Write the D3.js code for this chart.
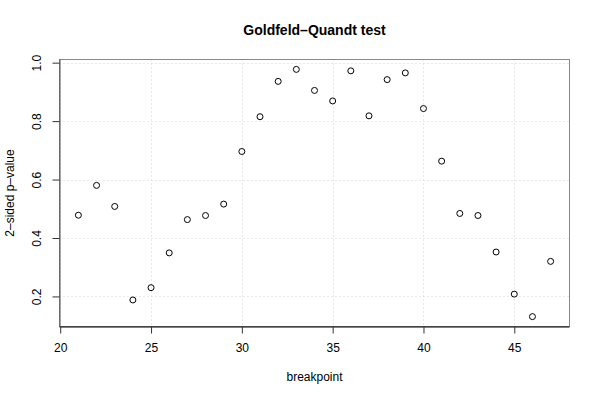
<!DOCTYPE html>
<html><head><meta charset="utf-8">
<script src="https://cdn.jsdelivr.net/npm/d3@7"></script>
<style>body{margin:0;background:#fff}svg{display:block}text{font-family:"Liberation Sans",Arial,Helvetica,sans-serif}</style>
</head><body><svg id="c" width="600" height="400"></svg>
<script>
const breakpoints = [21,22,23,24,25,26,27,28,29,30,31,32,33,34,35,36,37,38,39,40,41,42,43,44,45,46,47];
const pvalues = [0.478,0.580,0.508,0.188,0.230,0.349,0.463,0.477,0.516,0.696,0.815,0.936,0.977,0.905,0.869,0.972,0.818,0.942,0.965,0.843,0.663,0.484,0.477,0.352,0.208,0.131,0.320];
const xTicks = [20,25,30,35,40,45];
const yTicks = [0.2,0.4,0.6,0.8,1.0];
const title = "Goldfeld\u2013Quandt test";
const xLabel = "breakpoint";
const yLabel = "2\u2013sided p\u2013value";

const svg = d3.select("#c");
const L=59.5, R=569.5, T=59.5, B=326.5;
const xmin=d3.min(breakpoints), xmax=d3.max(breakpoints);
const ymin=d3.min(pvalues), ymax=d3.max(pvalues);
const xr=(xmax-xmin)*0.04, yr=(ymax-ymin)*0.04;
const x=d3.scaleLinear().domain([xmin-xr,xmax+xr]).range([L,R]);
const y=d3.scaleLinear().domain([ymin-yr,ymax+yr]).range([B,T]);

// grid
const g=svg.append("g");
g.selectAll(".gx").data(xTicks).join("line")
 .attr("x1",d=>Math.round(x(d))+0.5).attr("x2",d=>Math.round(x(d))+0.5).attr("y1",T).attr("y2",B)
 .attr("stroke","#d3d3d3").attr("stroke-dasharray","1,3");
g.selectAll(".gy").data(yTicks).join("line")
 .attr("y1",d=>Math.round(y(d))+0.5).attr("y2",d=>Math.round(y(d))+0.5).attr("x1",L).attr("x2",R)
 .attr("stroke","#d3d3d3").attr("stroke-dasharray","1,3");

// box
svg.append("rect").attr("x",L).attr("y",T).attr("width",R-L).attr("height",B-T)
 .attr("fill","none").attr("stroke","#888").attr("stroke-width",1);

// axes
const xa=svg.append("g").attr("transform",`translate(0,${B})`)
 .call(d3.axisBottom(x).tickValues(xTicks).tickSize(7).tickPadding(10).tickFormat(d3.format("d")));
xa.select(".domain").attr("d",`M${L},0.5H${R}`).attr("stroke","#000");
xa.selectAll("text").attr("font-size",12).attr("fill","#000");
xa.selectAll(".tick line").attr("stroke","#333");

const ya=svg.append("g").attr("transform",`translate(${L},0)`)
 .call(d3.axisLeft(y).tickValues(yTicks).tickSize(7).tickFormat(d3.format(".1f")));
ya.select(".domain").attr("d",`M0.5,${T}V${B}`).attr("stroke","#555");
ya.selectAll(".tick line").attr("stroke","#333");
ya.selectAll(".tick text").attr("font-size",12).attr("fill","#000")
 .attr("transform","rotate(-90)").attr("x",0).attr("y",-19).attr("dy","0").attr("text-anchor","middle");

// points
svg.append("g").selectAll("circle").data(breakpoints).join("circle")
 .attr("cx",(d)=>x(d)).attr("cy",(d,i)=>y(pvalues[i])).attr("r",3)
 .attr("fill","none").attr("stroke","#000").attr("stroke-width",1);

// labels
svg.append("text").attr("x",(L+R)/2).attr("y",35).attr("text-anchor","middle")
 .attr("font-size",14).attr("font-weight","bold").text(title);
svg.append("text").attr("x",(L+R)/2).attr("y",381).attr("text-anchor","middle")
 .attr("font-size",12).text(xLabel);
svg.append("text").attr("transform",`translate(14,${(T+B)/2}) rotate(-90)`).attr("text-anchor","middle")
 .attr("font-size",12).text(yLabel);
</script></body></html>
